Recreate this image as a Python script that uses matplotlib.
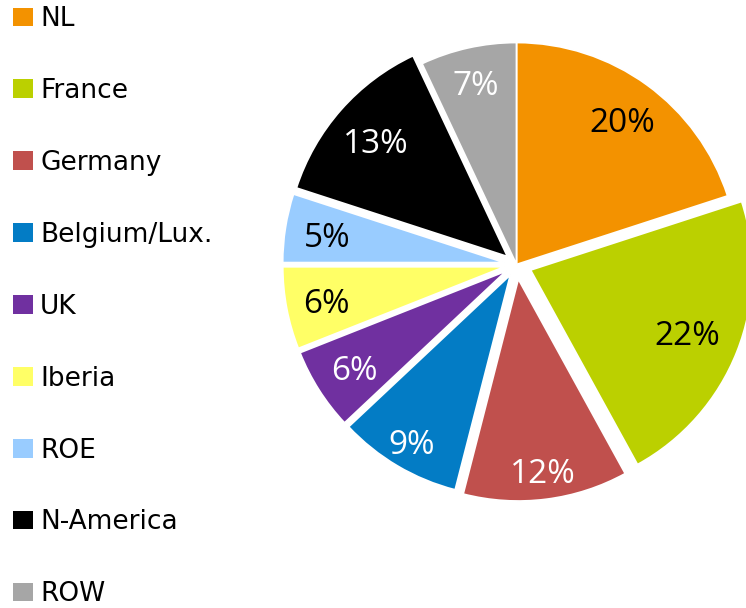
import matplotlib
matplotlib.use("Agg")
import numpy as np
import matplotlib.pyplot as plt
from matplotlib.patches import Patch

categories = ["NL", "France", "Germany", "Belgium/Lux.", "UK", "Iberia", "ROE", "N-America", "ROW"]
shares = [20, 22, 12, 9, 6, 6, 5, 13, 7]
colors = ["#F39200", "#BBD000", "#C0504D", "#037CC5", "#7030A0", "#FFFF66", "#99CCFF", "#000000", "#A6A6A6"]
label_colors = ["black", "black", "white", "white", "white", "black", "black", "white", "white"]
explode = [0.0, 0.068, 0.066, 0.054, 0.054, 0.054, 0.054, 0.054, 0.0]
label_dist = [0.81, 0.76, 0.87, 0.87, 0.81, 0.82, 0.81, 0.79, 0.84]

W, H = 746, 608
dpi = 100
fig = plt.figure(figsize=(W / dpi, H / dpi), dpi=dpi)

cx, cy, r = 516.5, 264.5, 222.0
R = 240.0
ax = fig.add_axes([(cx - R) / W, (H - cy - R) / H, 2 * R / W, 2 * R / H])

wedges, texts, autotexts = ax.pie(
    shares, colors=colors, explode=explode, startangle=90, counterclock=False,
    autopct=lambda p: f"{p:.0f}%", pctdistance=0.82,
    wedgeprops=dict(edgecolor="white", linewidth=1.3),
    textprops=dict(fontsize=24, family="Open Sans"),
)
for w, t, c, d in zip(wedges, autotexts, label_colors, label_dist):
    ang = np.deg2rad((w.theta1 + w.theta2) / 2)
    x0, y0 = w.center
    t.set_position((x0 + d * w.r * np.cos(ang), y0 + d * w.r * np.sin(ang)))
    t.set_verticalalignment("center_baseline")
    t.set_color(c)
lim = R / r
ax.set_xlim(-lim, lim)
ax.set_ylim(-lim, lim)
ax.set_aspect("equal")
ax.axis("off")

handles = [Patch(facecolor=c, edgecolor="none") for c in colors]
leg = fig.legend(handles, categories, loc="upper left", bbox_to_anchor=(13 / W, 1 - 6 / H),
                 frameon=False, handlelength=0.76, handleheight=0.7,
                 handletextpad=0.27, labelspacing=1.74, borderaxespad=0.0,
                 borderpad=0.0, prop=dict(family="DejaVu Sans", size=19))

fig.savefig("out.png", dpi=dpi)
